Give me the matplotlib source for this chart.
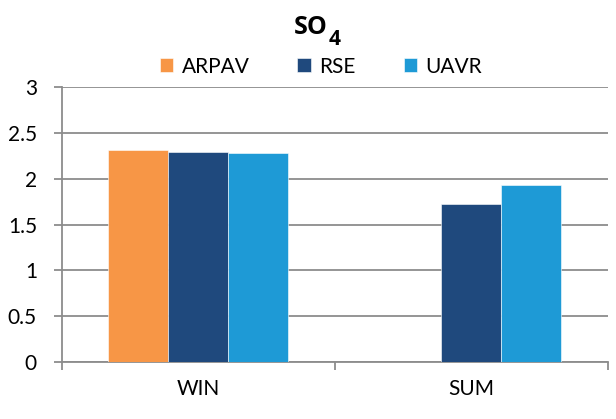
import numpy as np
import matplotlib.pyplot as plt
from matplotlib.ticker import FixedLocator

plt.rcParams['font.family'] = ['Lato', 'DejaVu Sans']

# data
categories = ['WIN', 'SUM']
series = ['ARPAV', 'RSE', 'UAVR']
arpav = [2.31, np.nan]
rse = [2.29, 1.73]
uavr = [2.28, 1.93]
yticks = [0, 0.5, 1, 1.5, 2, 2.5, 3]
ytick_labels = ['0', '0.5', '1', '1.5', '2', '2.5', '3']
colors = ['#F79646', '#1F497D', '#1E9AD6']

fig = plt.figure(figsize=(6.16, 4.19), dpi=100)
ax = fig.add_axes([0.1006, 0.136, 0.886, 0.656])

x = np.arange(len(categories))
w = 0.22
for i, (vals, name) in enumerate(zip([arpav, rse, uavr], series)):
    ax.bar(x + (i - 1) * w, vals, width=w, color=colors[i], label=name,
           edgecolor='white', linewidth=0.4, zorder=3)

ax.set_xlim(-0.5, 1.5)
ax.set_yticks(yticks)
ax.set_yticklabels(ytick_labels)
ax.set_ylim(0, 3)
ax.set_xticks(x)
ax.set_xticklabels(categories)
ax.xaxis.set_minor_locator(FixedLocator([-0.5, 0.5, 1.5]))

gray = '#8C8C8C'
ax.grid(axis='y', color=gray, linewidth=1.3, zorder=0)
for s in ['top', 'right']:
    ax.spines[s].set_visible(False)
for s in ['left', 'bottom']:
    ax.spines[s].set_color(gray)
    ax.spines[s].set_linewidth(1.3)

ax.tick_params(axis='y', length=6, width=1.3, color=gray, pad=12, labelsize=15)
ax.tick_params(axis='x', which='major', length=0, pad=12, labelsize=15)
ax.tick_params(axis='x', which='minor', length=6, width=1.3, color=gray)

# title with subscript
fig.text(0.532, 0.919, 'SO', ha='right', va='baseline', fontsize=18,
         fontweight='bold', family='Open Sans')
fig.text(0.534, 0.893, '4', ha='left', va='baseline', fontsize=15,
         fontweight='bold', family='Open Sans')

ax.legend(loc='center', bbox_to_anchor=(0.521, 0.841), bbox_transform=fig.transFigure,
          ncol=3, frameon=False, fontsize=15, handlelength=0.65, handleheight=0.65,
          handletextpad=0.4, columnspacing=2.3)

fig.savefig('out.png', dpi=100)
